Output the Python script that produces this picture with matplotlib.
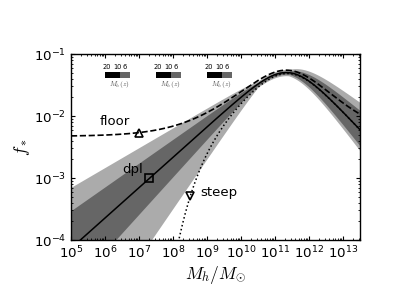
"""
Star formation efficiency f_* vs halo mass: dpl / floor / steep models
"""
import numpy as np
import matplotlib
matplotlib.use('Agg')
import matplotlib.pyplot as plt
from matplotlib.patches import Rectangle
from matplotlib.ticker import LogLocator, FuncFormatter, NullFormatter

plt.rcParams['mathtext.fontset'] = 'dejavusans'

# ---------------------------------------------------------------------------
# Values
# ---------------------------------------------------------------------------
m_peak = 2.5e11          # peak mass
f_peak = 0.05            # efficiency at the peak
alpha = 0.49             # low-mass slope
beta = 0.58              # high-mass slope

# band half-widths (dex): value at the peak, growth per decade below the
# low pivot and above the high pivot  -> [up, down]
log_pivot_lo = 10.5
log_pivot_hi = 11.4
dark_core = 0.025
light_core = 0.05
dark_grow_lo = [0.106, 0.115]
light_grow_lo = [0.17, 0.31]
dark_grow_hi = [0.136, 0.112]
light_grow_hi = [0.186, 0.138]

f_floor = 0.0047         # floor level
m_steep = 1e9            # turnover mass of steep model
k_steep = 0.62

model_names = ['floor', 'dpl', 'steep']
marker_mass = [1e7, 2e7, 3.2e8]
label_mass = [7e5, 3.2e6, 6.2e8]
label_fstar = [8.3e-3, 1.35e-3, 5.75e-4]

cbar_ticks = ['20', '10', '6']
cbar_label = r'$M_h(z)$'

xlim = (1e5, 10 ** 13.5)
ylim = (1e-4, 1e-1)


def dpl(m):
    x = m / m_peak
    return 2 * f_peak / (x ** -alpha + x ** beta)


def floor(m):
    return dpl(m) + f_floor


def steep(m):
    return dpl(m) * np.exp(-(m_steep / m) ** k_steep)


def band(m, core, grow_lo, grow_hi, i):
    lm = np.log10(m)
    w = core + grow_lo[i] * np.clip(log_pivot_lo - lm, 0, None) \
        + grow_hi[i] * np.clip(lm - log_pivot_hi, 0, None)
    return w


Mh = np.logspace(5, 13.5, 600)

##
# ---------------------------------------------------------------------------
# Figure
# ---------------------------------------------------------------------------
fig = plt.figure(figsize=(3.99, 3.01), dpi=100)
ax = fig.add_axes([71 / 399., 61 / 301., 289 / 399., 186 / 301.])

f_main = dpl(Mh)

# uncertainty bands
ax.fill_between(Mh, f_main / 10 ** band(Mh, light_core, light_grow_lo, light_grow_hi, 1),
                f_main * 10 ** band(Mh, light_core, light_grow_lo, light_grow_hi, 0),
                color='0.67', lw=0)
ax.fill_between(Mh, f_main / 10 ** band(Mh, dark_core, dark_grow_lo, dark_grow_hi, 1),
                f_main * 10 ** band(Mh, dark_core, dark_grow_lo, dark_grow_hi, 0),
                color='0.4', lw=0)

ax.plot(Mh, f_main, color='k', ls='-', lw=1.1)
ax.plot(Mh, floor(Mh), color='k', ls='--', lw=1.2)
ax.plot(Mh, steep(Mh), color='k', ls=':', lw=1.1)

# markers on each curve
funcs = [floor, dpl, steep]
marks = ['^', 's', 'v']
for f, mk, m in zip(funcs, marks, marker_mass):
    ax.plot([m], [f(m)], marker=mk, mfc='none', mec='k', mew=1.2, ms=5.5, ls='none')

for name, xm, yf in zip(model_names, label_mass, label_fstar):
    ax.text(xm, yf, name, fontsize=9.5, ha='left', va='center')

ax.set_xscale('log')
ax.set_yscale('log')
ax.set_xlim(*xlim)
ax.set_ylim(*ylim)

fmt = FuncFormatter(lambda v, p: r'$10^{%d}$' % int(round(np.log10(v))))
for axis in [ax.xaxis, ax.yaxis]:
    axis.set_major_locator(LogLocator(base=10, numticks=20))
    axis.set_minor_locator(LogLocator(base=10, subs=np.arange(2, 10), numticks=20))
    axis.set_major_formatter(fmt)
    axis.set_minor_formatter(NullFormatter())

ax.tick_params(which='both', direction='in', top=True, right=True, labelsize=9.6)
ax.tick_params(which='major', length=3.2, width=0.8)
ax.tick_params(which='minor', length=1.6, width=0.6)
for sp in ax.spines.values():
    sp.set_linewidth(1.0)

ax.set_xlabel(r'$M_h / M_{\odot}$', fontsize=12.5, labelpad=2, math_fontfamily='cm')
ax.set_ylabel(r'$f_*$', fontsize=12.5, math_fontfamily='cm')
ax.yaxis.set_label_coords(-0.135, 0.5)

# small redshift colour bars
for left in [105, 156, 207]:
    x0 = left / 399.
    w = 25 / 399.
    y0 = (301 - 78) / 301.
    h = 6 / 301.
    fig.patches.append(Rectangle((x0, y0), w * 0.6, h, transform=fig.transFigure,
                                 facecolor='k', edgecolor='none'))
    fig.patches.append(Rectangle((x0 + w * 0.6, y0), w * 0.4, h, transform=fig.transFigure,
                                 facecolor='0.4', edgecolor='none'))
    for t, dx in zip(cbar_ticks, [2, 12, 19.5]):
        fig.text((left + dx) / 399., (301 - 67) / 301., t, fontsize=4.8,
                 ha='center', va='center')
    fig.text((left + 14) / 399., (301 - 84) / 301., cbar_label, fontsize=5.2,
             ha='center', va='center', color='0.3', math_fontfamily='cm')

fig.savefig('out.png', dpi=100)
